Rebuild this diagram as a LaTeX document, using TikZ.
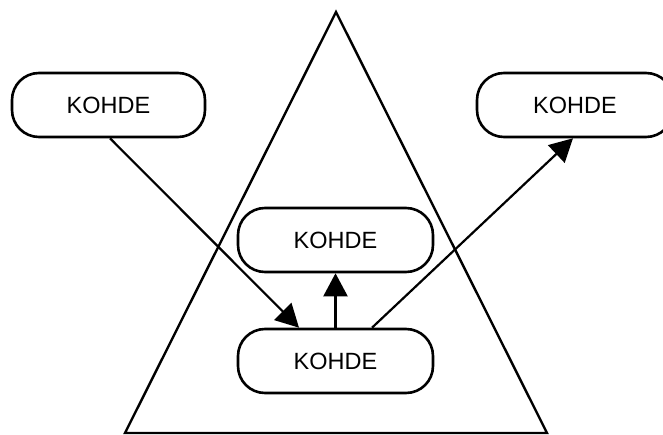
\documentclass[tikz,border=0pt]{standalone}
\usepackage{fontspec}
\setmainfont{Liberation Sans}
\usetikzlibrary{arrows.meta,calc}
\begin{document}
\begin{tikzpicture}[x=1pt,y=-1pt,
  box/.style={draw,line width=2.6pt,rounded corners=27pt,minimum width=193pt,minimum height=64pt,inner sep=0pt,fill=white,font=\fontsize{23.5}{27}\selectfont},
  conn/.style={line width=2.2pt,-{Triangle[length=23pt,width=24pt]}},
  outline/.style={line width=2.4pt,line join=miter}]
\useasboundingbox (0,0) rectangle (663,435);
\clip (0,0) rectangle (663,435);
% triangle
\coordinate (apex) at (336,12);
\coordinate (bl) at (125,433);
\coordinate (br) at (547,433);
\draw[outline] (apex) -- (bl) -- (br) -- cycle;
% nodes
\node[box] (L) at (108.5,105) {KOHDE};
\node[box,minimum width=196pt] (R) at (575,105) {KOHDE};
\node[box,minimum width=195pt] (M) at (335.5,240) {KOHDE};
\node[box,minimum width=195pt] (B) at (335.5,361) {KOHDE};
% connector ends
\coordinate (Ls) at ($(L.south)+(1.5,0)$);
\coordinate (Bin) at ($(B.north)+(-36.5,0)$);
\coordinate (Bout) at ($(B.north)+(36.5,0)$);
\coordinate (Rin) at ($(R.south)+(-2,0)$);
\draw[conn] (Ls) -- (Bin);
\draw[conn] (B.north) -- (M.south);
\draw[conn] (Bout) -- (Rin);
\end{tikzpicture}
\end{document}
